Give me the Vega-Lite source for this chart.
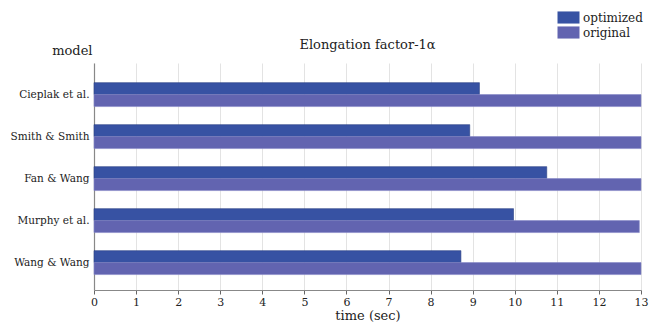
{
  "$schema": "https://vega.github.io/schema/vega-lite/v6.json",
  "width": 547,
  "height": 227,
  "autosize": {"type": "none"},
  "padding": {"left": 94, "top": 63, "right": 18, "bottom": 32},
  "background": "white",
  "config": {
    "font": "DejaVu Serif",
    "view": {"stroke": null}
  },
  "title": {
    "text": "Elongation factor-1α",
    "font": "DejaVu Serif",
    "fontSize": 13,
    "fontWeight": "normal",
    "color": "#222",
    "anchor": "middle",
    "offset": 12,
    "dy": 52
  },
  "data": {
    "values": [
      {"model": "Cieplak et al.", "series": "optimized", "time": 9.16},
      {"model": "Cieplak et al.", "series": "original", "time": 13.0},
      {"model": "Smith & Smith", "series": "optimized", "time": 8.93},
      {"model": "Smith & Smith", "series": "original", "time": 13.0},
      {"model": "Fan & Wang", "series": "optimized", "time": 10.76},
      {"model": "Fan & Wang", "series": "original", "time": 13.0},
      {"model": "Murphy et al.", "series": "optimized", "time": 9.97},
      {"model": "Murphy et al.", "series": "original", "time": 12.96},
      {"model": "Wang & Wang", "series": "optimized", "time": 8.72},
      {"model": "Wang & Wang", "series": "original", "time": 13.0}
    ]
  },
  "mark": {"type": "bar", "strokeWidth": 0.6},
  "encoding": {
    "y": {
      "field": "model",
      "type": "nominal",
      "sort": null,
      "scale": {"paddingInner": 0.43, "paddingOuter": 0.4175, "align": 0.56},
      "axis": {
        "title": "model",
        "titleFont": "DejaVu Serif",
        "titleAngle": 0,
        "titleAlign": "right",
        "titleBaseline": "bottom",
        "titleX": -2,
        "titleY": -6,
        "titleFontSize": 13,
        "titleFontWeight": "normal",
        "titleColor": "#222",
        "labelFont": "DejaVu Serif",
        "labelFontSize": 10.5,
        "labelColor": "#222",
        "labelPadding": 5,
        "ticks": false,
        "domainColor": "#888",
        "domainWidth": 1.2
      }
    },
    "yOffset": {"field": "series", "type": "nominal", "sort": ["optimized", "original"], "scale": {"paddingInner": 0, "paddingOuter": 0}},
    "x": {
      "field": "time",
      "type": "quantitative",
      "scale": {"domain": [0, 13], "nice": false},
      "axis": {
        "title": "time (sec)",
        "titleFont": "DejaVu Serif",
        "titleFontSize": 13,
        "titleFontWeight": "normal",
        "titleColor": "#222",
        "titlePadding": 2,
        "values": [0,1,2,3,4,5,6,7,8,9,10,11,12,13],
        "labelFont": "DejaVu Serif",
        "labelFontSize": 11,
        "labelColor": "#222",
        "labelPadding": 2,
        "labelFlush": false,
        "tickSize": 4,
        "tickColor": "#666",
        "domainColor": "#888",
        "domainWidth": 1.2,
        "grid": true,
        "gridColor": "#e3e3e3"
      }
    },
    "color": {
      "field": "series",
      "type": "nominal",
      "scale": {"domain": ["optimized", "original"], "range": ["#3752a3", "#6264b0"]},
      "legend": {
        "title": null,
        "orient": "none",
        "legendX": 468.5,
        "legendY": -51.5,
        "symbolType": "M-2,-1.1H2V1.1H-2Z",
        "symbolSize": 121,
        "symbolStrokeWidth": 0,
        "symbolOpacity": 1,
        "labelFont": "DejaVu Serif",
        "labelFontSize": 12,
        "labelColor": "#222",
        "rowPadding": 1,
        "labelOffset": 8.5
      }
    },
    "stroke": {
      "field": "series",
      "type": "nominal",
      "scale": {"domain": ["optimized", "original"], "range": ["#2a3f85", "#8587c8"]},
      "legend": null
    }
  }
}
